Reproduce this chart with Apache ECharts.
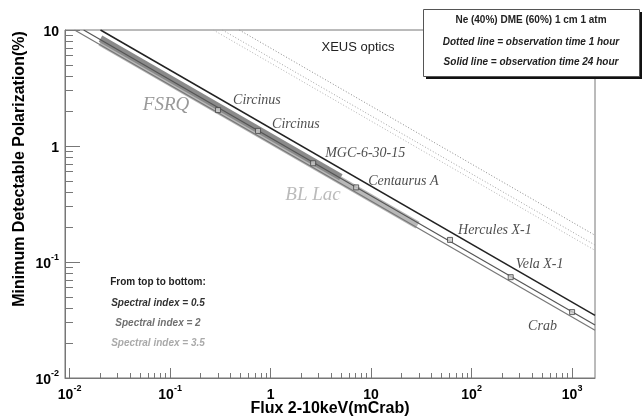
<!DOCTYPE html>
<html><head><meta charset="utf-8">
<script src="https://cdn.jsdelivr.net/npm/echarts@6/dist/echarts.min.js"></script>
<style>html,body{margin:0;padding:0;background:#fff}#c{width:643px;height:419px}</style>
</head><body><div id="c"></div>
<script>
// ---- axis ticks ----
const xMajorTicks = [0.01, 0.1, 1, 10, 100, 1000];
const xMinorTicks = [0.02,0.03,0.04,0.05,0.06,0.07,0.08,0.09,
  0.2,0.3,0.4,0.5,0.6,0.7,0.8,0.9, 2,3,4,5,6,7,8,9,
  20,30,40,50,60,70,80,90, 200,300,400,500,600,700,800,900];
const yMajorTicks = [0.01, 0.1, 1, 10];
const yMinorTicks = [0.02,0.03,0.04,0.05,0.06,0.07,0.08,0.09,
  0.2,0.3,0.4,0.5,0.6,0.7,0.8,0.9, 2,3,4,5,6,7,8,9];

// ---- curves (flux mCrab, MDP %) ----
// Solid = 24 hour observation, spectral index 0.5 / 2 / 3.5
const solidIdx05 = [[0.0203, 10], [1690, 0.0347]];
const solidIdx2  = [[0.0138, 10], [1690, 0.0286]];
const solidIdx35 = [[0.0112, 10], [1690, 0.0258]];
// Dotted = 1 hour observation
const dottedIdx05 = [[0.488, 10], [1690, 0.170]];
const dottedIdx2  = [[0.331, 10], [1690, 0.140]];
const dottedIdx35 = [[0.269, 10], [1690, 0.126]];
// Source-class bands
const fsrqBand  = [[0.0203, 8.43], [5, 0.538]];
const blLacBand = [[0.0203, 7.87], [29, 0.208]];

// ---- sources ----
const sourceNames = ['Circinus', 'Circinus', 'MGC-6-30-15', 'Centaurus A', 'Hercules X-1', 'Vela X-1', 'Crab'];
const sourceFlux  = [0.30, 0.75, 2.65, 7.1, 61, 245, 1000];
const sourceMDP   = [2.04, 1.35, 0.71, 0.44, 0.155, 0.074, 0.037];

// label layout (style, not data)
const labelOffsets = {
  0: [12, -10], 1: [11, -7], 2: [9, -10], 3: [9, -6], 4: [5, -10], 5: [2, -13], 6: [-47, 14]
};

const chart = echarts.init(document.getElementById('c'), null, {renderer: 'canvas'});
const SANS = '"Liberation Sans", Arial, Helvetica, sans-serif';
const SERIF = '"Liberation Serif", "Times New Roman", serif';

function powLabel(v) {
  const e = Math.round(Math.log10(v));
  if (e === 0) return '{b|1}';
  if (e === 1) return '{b|10}';
  return '{b|10}{s|' + e + '}';
}
const richLbl = {
  b: {fontSize: 14, fontWeight: 'bold', color: '#000', fontFamily: SANS, lineHeight: 18, verticalAlign: 'bottom'},
  s: {fontSize: 9, fontWeight: 'bold', color: '#000', fontFamily: SANS, lineHeight: 9, verticalAlign: 'top'}
};

const XMIN = 0.009, XMAX = 1690, YMIN = 0.01, YMAX = 10;
const grid = {left: 65, top: 30, right: 48, bottom: 41, show: true, borderColor: '#777', borderWidth: 1, backgroundColor: 'transparent'};

function lineSeries(data, color, width, type, z) {
  return {type: 'line', data: data, symbol: 'none', silent: true, z: z || 3,
    lineStyle: {color: color, width: width, type: type || 'solid', cap: 'butt'}, xAxisIndex: 0, yAxisIndex: 0};
}

const sources = sourceNames.map((n, i) => ({
  name: n, value: [sourceFlux[i], sourceMDP[i]],
  label: {offset: labelOffsets[i]}
}));

const option = {
  animation: false,
  backgroundColor: '#fff',
  grid: grid,
  xAxis: [
    {type: 'log', min: XMIN, max: XMAX, position: 'bottom',
     axisLine: {lineStyle: {color: '#777', width: 1}},
     axisTick: {inside: true, length: 10, customValues: xMajorTicks, lineStyle: {color: '#777'}},
     axisLabel: {customValues: xMajorTicks, formatter: powLabel, rich: richLbl, margin: 6},
     splitLine: {show: false}},
    {type: 'log', min: XMIN, max: XMAX, position: 'bottom',
     axisLine: {show: false},
     axisTick: {inside: true, length: 5, customValues: xMinorTicks, lineStyle: {color: '#777'}},
     axisLabel: {show: false}, splitLine: {show: false}}
  ],
  yAxis: [
    {type: 'log', min: YMIN, max: YMAX, position: 'left',
     axisLine: {show: true, lineStyle: {color: '#777', width: 1}},
     axisTick: {inside: true, length: 15, customValues: yMajorTicks, lineStyle: {color: '#777'}},
     axisLabel: {customValues: yMajorTicks, formatter: powLabel, rich: richLbl, margin: 6},
     splitLine: {show: false}},
    {type: 'log', min: YMIN, max: YMAX, position: 'left',
     axisLine: {show: false},
     axisTick: {inside: true, length: 8, customValues: yMinorTicks, lineStyle: {color: '#777'}},
     axisLabel: {show: false}, splitLine: {show: false}}
  ],
  series: [
    lineSeries(blLacBand, '#b8b8b8', 8, 'solid', 2),
    lineSeries(fsrqBand, '#8a8a8a', 7, 'solid', 2),
    lineSeries(dottedIdx35, '#b0b0b0', 1, [1, 2]),
    lineSeries(dottedIdx2, '#a0a0a0', 1, [1, 2]),
    lineSeries(dottedIdx05, '#888', 1, [1, 2]),
    lineSeries(solidIdx35, '#777', 1.2),
    lineSeries(solidIdx2, '#555', 1.2),
    lineSeries(solidIdx05, '#222', 1.5),
    {type: 'scatter', data: sources, symbol: 'rect', symbolSize: 5, z: 5,
     itemStyle: {color: '#ccc', borderColor: '#444', borderWidth: 1},
     label: {show: true, position: 'right', distance: 0, formatter: p => p.name,
       fontFamily: SERIF, fontStyle: 'italic', fontSize: 14, color: '#222'}}
  ],
  graphic: [
    // axis titles
    {type: 'text', z: 50, x: 330, y: 409,
     style: {text: 'Flux 2-10keV(mCrab)', font: 'bold 16px ' + SANS, fill: '#000', align: 'center', verticalAlign: 'middle'}},
    {type: 'text', z: 50, x: 20, y: 169, rotation: Math.PI / 2,
     style: {text: 'Minimum Detectable Polarization(%)', font: 'bold 16px ' + SANS, fill: '#000', align: 'center', verticalAlign: 'middle'}},
    // XEUS optics
    {type: 'text', z: 50, x: 358, y: 47,
     style: {text: 'XEUS optics', font: '13px ' + SANS, fill: '#222', align: 'center', verticalAlign: 'middle'}},
    // class labels
    {type: 'text', z: 50, x: 166, y: 105,
     style: {text: 'FSRQ', font: 'italic 19px ' + SERIF, fill: '#999', align: 'center', verticalAlign: 'middle'}},
    {type: 'text', z: 50, x: 313, y: 195,
     style: {text: 'BL Lac', font: 'italic 19px ' + SERIF, fill: '#bbb', align: 'center', verticalAlign: 'middle'}},
    // spectral index notes
    {type: 'text', z: 50, x: 158, y: 282,
     style: {text: 'From top to bottom:', font: 'bold 10px ' + SANS, fill: '#222', align: 'center', verticalAlign: 'middle'}},
    {type: 'text', z: 50, x: 158, y: 303,
     style: {text: 'Spectral index = 0.5', font: 'italic bold 10px ' + SANS, fill: '#333', align: 'center', verticalAlign: 'middle'}},
    {type: 'text', z: 50, x: 158, y: 323,
     style: {text: 'Spectral index = 2', font: 'italic bold 10px ' + SANS, fill: '#707070', align: 'center', verticalAlign: 'middle'}},
    {type: 'text', z: 50, x: 158, y: 343,
     style: {text: 'Spectral index = 3.5', font: 'italic bold 10px ' + SANS, fill: '#aaa', align: 'center', verticalAlign: 'middle'}},
    // legend box with shadow
    {type: 'rect', z: 98, shape: {x: 426, y: 12, width: 216, height: 67}, style: {fill: '#111'}},
    {type: 'rect', z: 99, shape: {x: 423.5, y: 9.5, width: 216, height: 67}, style: {fill: '#fff', stroke: '#555', lineWidth: 1}},
    {type: 'text', z: 100, x: 531, y: 20,
     style: {text: 'Ne (40%) DME (60%) 1 cm 1 atm', font: 'bold 10px ' + SANS, fill: '#222', align: 'center', verticalAlign: 'middle'}},
    {type: 'text', z: 100, x: 531, y: 42,
     style: {text: 'Dotted line = observation time 1 hour', font: 'italic bold 10px ' + SANS, fill: '#222', align: 'center', verticalAlign: 'middle'}},
    {type: 'text', z: 100, x: 531, y: 62,
     style: {text: 'Solid line = observation time 24 hour', font: 'italic bold 10px ' + SANS, fill: '#222', align: 'center', verticalAlign: 'middle'}}
  ]
};
chart.setOption(option);
</script>
</body></html>
